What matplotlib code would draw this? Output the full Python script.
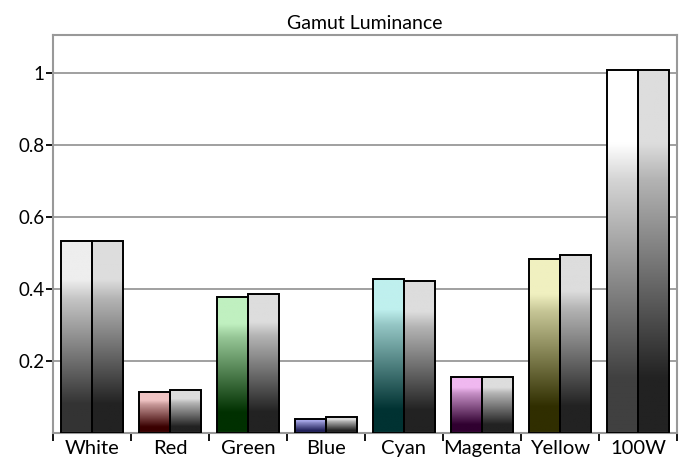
import numpy as np
import matplotlib.pyplot as plt
from matplotlib.colors import to_rgb
from matplotlib.patches import Rectangle

plt.rcParams['font.family'] = ['Lato', 'DejaVu Sans']

categories = ["White", "Red", "Green", "Blue", "Cyan", "Magenta", "Yellow", "100W"]
measured = [0.533, 0.112, 0.378, 0.039, 0.428, 0.156, 0.483, 1.006]
reference = [0.533, 0.118, 0.384, 0.045, 0.422, 0.156, 0.494, 1.006]

top_colors = ["#eeeeee", "#f0c4c4", "#c0f0c0", "#a8a8e8", "#bff0ee", "#f0b8f0", "#f0f0c0", "#ffffff"]
bottom_colors = ["#333333", "#3a0000", "#003000", "#202058", "#003232", "#300030", "#302e00", "#404040"]
ref_top = "#dddddd"
ref_bottom = "#222222"


def gradient(c_top, c_bot, n=200):
    t = np.linspace(0, 1, n)            # 0 = top of bar
    w = np.interp(t, [0, 0.2, 0.3, 0.85, 1], [0, 0, 0.22, 1, 1])
    a = np.array(to_rgb(c_top))
    b = np.array(to_rgb(c_bot))
    img = a[None, :] * (1 - w[:, None]) + b[None, :] * w[:, None]
    return img[:, None, :]


def grad_bar(ax, x0, width, h, c_top, c_bot):
    ax.imshow(gradient(c_top, c_bot), extent=[x0, x0 + width, 0, h],
              aspect='auto', zorder=2, interpolation='bilinear')
    ax.add_patch(Rectangle((x0, 0), width, h, fill=False, ec='black', lw=1.4, zorder=3))


fig = plt.figure(figsize=(6.88, 4.58), dpi=100)
ax = fig.add_axes([0.077, 0.055, 0.907, 0.869])

w = 0.4
for i in range(len(categories)):
    grad_bar(ax, i - w, w, measured[i], top_colors[i], bottom_colors[i])
    grad_bar(ax, i, w, reference[i], ref_top, ref_bottom)

ax.set_xlim(-0.5, len(categories) - 0.5)
ax.set_ylim(0, 1.105)

ax.set_yticks([0.2, 0.4, 0.6, 0.8, 1.0])
ax.set_yticklabels(["0.2", "0.4", "0.6", "0.8", "1"], fontsize=13.5)
ax.yaxis.grid(True, color='#999999', lw=1.3, zorder=0)
ax.set_axisbelow(True)

ax.set_xticks(range(len(categories)))
ax.set_xticklabels(categories, fontsize=14.5)
ax.set_xticks(np.arange(-0.5, len(categories)), minor=True)
ax.tick_params(axis='x', which='major', length=0, pad=5)
ax.tick_params(axis='x', which='minor', length=6, width=1.3, color='black', direction='out')
ax.tick_params(axis='y', length=5, width=1.3, color='black', pad=1)

for s in ax.spines.values():
    s.set_color('#999999')
    s.set_linewidth(1.5)

ax.set_title("Gamut Luminance", fontsize=14, pad=4)

fig.savefig("out.png", dpi=100)
